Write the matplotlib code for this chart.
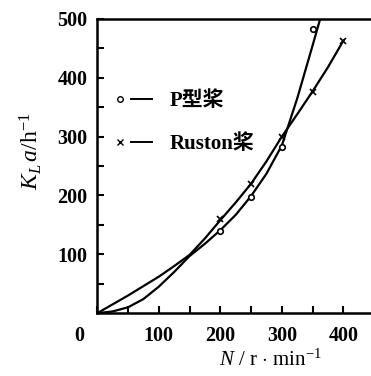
import matplotlib.pyplot as plt
from matplotlib.lines import Line2D
from matplotlib.legend_handler import HandlerTuple
from matplotlib.ticker import MultipleLocator

plt.rcParams['font.family'] = ['Liberation Serif', 'Noto Sans CJK SC']
plt.rcParams['mathtext.fontset'] = 'custom'
plt.rcParams['mathtext.rm'] = 'Liberation Serif'
plt.rcParams['mathtext.it'] = 'Liberation Serif:italic'

# measured points
n_p = [200, 250, 300, 350]
k_p = [140, 197, 283, 483]
n_r = [200, 250, 300, 350, 400]
k_r = [160, 220, 300, 375, 463]

# fitted curves
curve_p_n = [0, 25, 50, 75, 100, 125, 150, 175, 200, 225, 250, 275, 300, 325, 350, 365]
curve_p_k = [0, 3, 10, 24, 45, 70, 97, 118, 141, 167, 199, 237, 285, 365, 455, 510]
curve_r_n = [0, 50, 100, 125, 150, 175, 200, 225, 250, 275, 300, 325, 350, 375, 400]
curve_r_k = [0, 30, 62, 80, 99, 127, 158, 188, 220, 258, 300, 338, 377, 418, 463]

fig = plt.figure(figsize=(3.71, 3.76), dpi=100)
ax = fig.add_axes([0.262, 0.167, 0.74, 0.783])

ax.plot(curve_p_n, curve_p_k, color="black", linewidth=1.6)
ax.plot(curve_r_n, curve_r_k, color="black", linewidth=1.6)
ax.plot(n_p, k_p, linestyle="none", marker="o", markersize=4,
        markerfacecolor="white", markeredgecolor="black", markeredgewidth=1.2)
ax.plot(n_r, k_r, linestyle="none", marker="x", markersize=4,
        color="black", markeredgewidth=1.2)

ax.set_xlim(0, 446)
ax.set_ylim(0, 500)
ax.spines["right"].set_visible(False)
for s in ["left", "bottom", "top"]:
    ax.spines[s].set_linewidth(1.8)

ax.xaxis.set_major_locator(MultipleLocator(100))
ax.xaxis.set_minor_locator(MultipleLocator(50))
ax.yaxis.set_major_locator(MultipleLocator(100))
ax.yaxis.set_minor_locator(MultipleLocator(50))
ax.tick_params(which="both", direction="in", top=False, right=False, width=1.5)
ax.tick_params(which="major", length=5, labelsize=14.5)
ax.tick_params(axis="x", pad=9)
ax.tick_params(axis="y", pad=7)
ax.tick_params(which="minor", length=5)
ax.set_xticks([100, 200, 300, 400])
ax.set_yticks([100, 200, 300, 400, 500])
for lab in ax.get_xticklabels() + ax.get_yticklabels():
    lab.set_fontweight("bold")
ax.text(-29, -22, "0", fontsize=14.5, fontweight="bold", ha="center", va="top")

ax.set_xlabel("$N$ / r $\\cdot$ min$^{-1}$", fontsize=15)
ax.xaxis.set_label_coords(0.63, -0.125)
ax.set_ylabel("$K_L\\,a$/h$^{-1}$", fontsize=17)
ax.yaxis.set_label_coords(-0.195, 0.55)

h_p = (Line2D([], [], linestyle="none", marker="o", markersize=4,
              markerfacecolor="white", markeredgecolor="black"),
       Line2D([], [], color="black", linewidth=1.4))
h_r = (Line2D([], [], linestyle="none", marker="x", markersize=4, color="black"),
       Line2D([], [], color="black", linewidth=1.4))
ax.legend([h_p, h_r], ["P型桨", "Ruston桨"],
          handler_map={tuple: HandlerTuple(ndivide=None, pad=0.0)},
          handlelength=2.0, handletextpad=0.85, labelspacing=1.1,
          frameon=False, loc="upper left", bbox_to_anchor=(-0.022, 0.818),
          prop={"family": ["Liberation Serif", "Noto Sans CJK SC"],
                "weight": "bold", "size": 15})

fig.savefig("out.png", dpi=100)
